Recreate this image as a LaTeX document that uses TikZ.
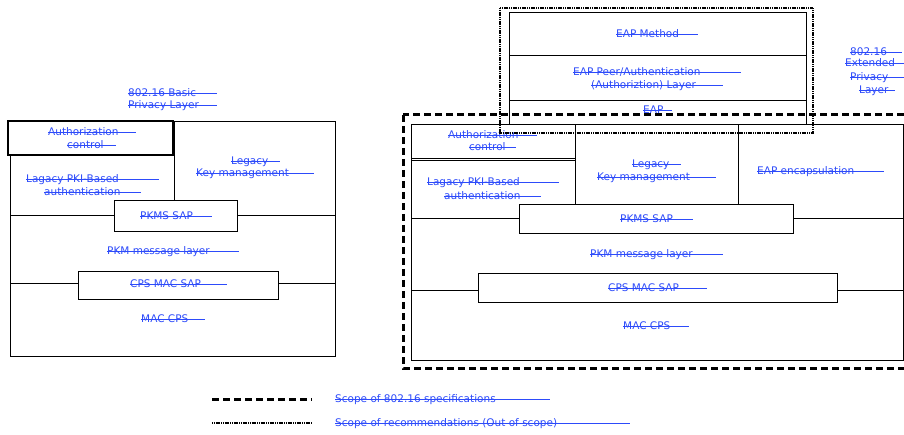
\documentclass[tikz,border=0pt]{standalone}
\usepackage{fontspec}
\setmainfont{DejaVu Sans}
\usepackage{tikz}
\definecolor{lblblue}{RGB}{45,75,250}
\tikzset{
    lbl/.style={anchor=base west, inner sep=0pt, text=lblblue, font=\fontsize{10.5}{12}\selectfont},
    strk/.style={lblblue, line width=0.9pt},
    box/.style={draw, line width=0.9pt, fill=white},
    specline/.style={line width=3pt, dash pattern=on 7pt off 4pt},
    recline/.style={line width=2.8pt, dash pattern=on 1.2pt off 0.6pt}
}

\begin{document}
\begin{tikzpicture}[x=1pt, y=-1pt]
    \useasboundingbox (0,0) rectangle (904,435);

    % Basic privacy layer (left)
    \draw [line width=0.9pt] (10,121) rectangle (335,356);
    \draw [line width=0.9pt] (174,121) -- (174,215);
    \draw [line width=0.9pt] (10,215) -- (335,215);
    \draw [line width=0.9pt] (10,283) -- (335,283);
    \draw [box, line width=1.3pt] (8,121) rectangle (173,155);
    \draw [box] (114,200) rectangle (237,231);
    \draw [box] (78,271) rectangle (278,299);

    % Extended privacy layer (right)
    \draw [line width=0.9pt] (411,124) rectangle (903,360);
    \draw [line width=0.9pt] (575,124) -- (575,204);
    \draw [line width=0.9pt] (738,124) -- (738,204);
    \draw [line width=0.9pt] (411,218) -- (903,218);
    \draw [line width=0.9pt] (411,290) -- (903,290);
    \draw [box] (411,124) rectangle (575,158);
    \draw [box] (411,160) rectangle (575,218);
    \draw [box] (519,204) rectangle (793,233);
    \draw [box] (478,273) rectangle (837,302);

    % EAP stack
    \draw [box] (509,12) rectangle (806,124);
    \draw [line width=0.9pt] (509,55) -- (806,55);
    \draw [line width=0.9pt] (509,100) -- (806,100);

    % Labels: x/y of strike/end of strike/text
    \foreach \x/\y/\e/\txt [count=\i] in {
        128/93/217/802.16 Basic, 128/105/217/Privacy Layer,
        48/132/136/Authorization, 67/145/116/control,
        231/161/280/Legacy, 196/173/314/Key management,
        26/179/159/Lagacy PKI-Based, 44/192/141/authentication,
        140/216/212/PKMS SAP, 107/251/239/PKM message layer,
        130/284/227/CPS MAC SAP, 141/319/205/MAC CPS,
        448/135/537/Authorization, 469/147/516/control,
        632/164/681/Legacy, 597/177/716/Key management,
        757/171/884/EAP encapsulation,
        427/182/559/Lagacy PKI-Based, 444/196/541/authentication,
        620/219/693/PKMS SAP, 590/254/723/PKM message layer,
        608/288/707/CPS MAC SAP, 623/326/689/MAC CPS,
        616/34/698/EAP Method, 573/72/741/{EAP Peer/Authentication},
        591/85/723/(Authoriztion) Layer, 643/110/672/EAP,
        850/52/902/802.16, 845/63/906/Extended,
        850/77/906/Privacy, 859/90/895/Layer,
        335/399/550/Scope of 802.16 specifications,
        335/423/630/Scope of recommendations (Out of scope)} {
        \node [lbl] (l\i) at (\x,{\y+3.8}) {\txt};
        \draw [strk] ([yshift=3.8pt]l\i.base west) -- (\e,\y);
    }

    % Scopes
    \draw [specline] (403,115) rectangle (912,368);
    \draw [recline] (500,8) rectangle (813,133);

    % Legend
    \draw [specline] (212,399) -- (312,399);
    \draw [recline] (212,423) -- (312,423);
\end{tikzpicture}
\end{document}
